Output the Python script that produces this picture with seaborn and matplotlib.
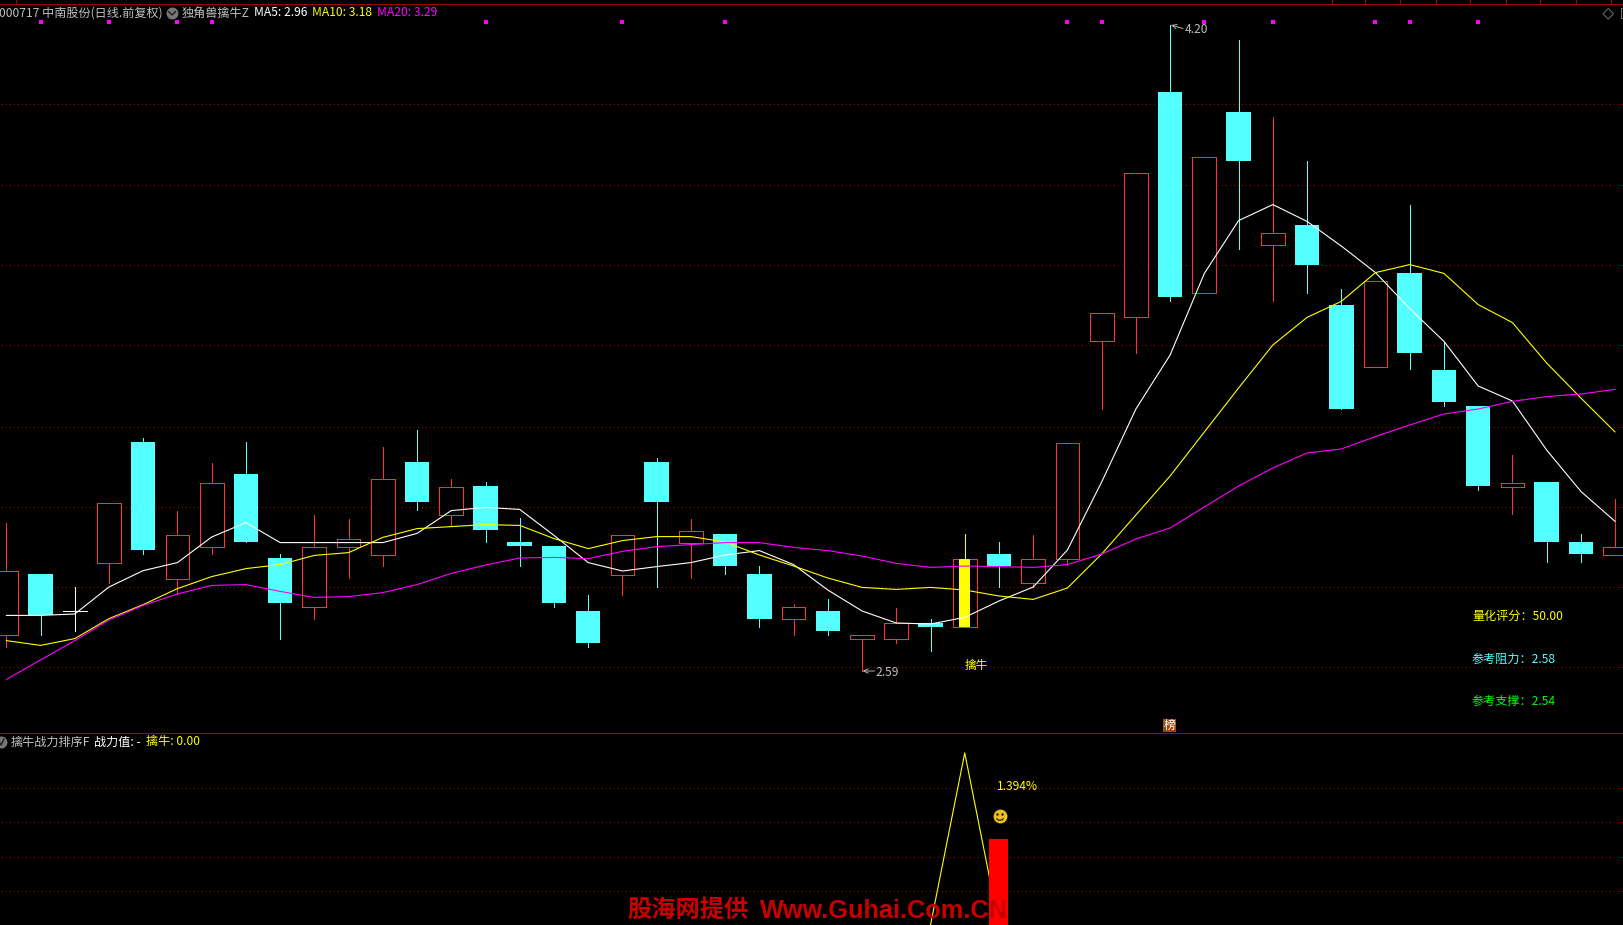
import matplotlib
matplotlib.use("Agg")
import matplotlib.pyplot as plt
from matplotlib.patches import Arc, Polygon, Rectangle
import numpy as np
import seaborn as sns

W, H = 1624, 925

# daily candles, prices
opens = [2.679, 2.8325, 2.74, 2.861, 3.1625, 2.821, 2.901, 3.0825, 2.8725, 2.749, 2.901, 2.881,
         3.1125, 2.981, 3.0525, 2.9125, 2.9025, 2.74, 2.831, 3.1125, 2.911, 2.9325, 2.8325, 2.719,
         2.74, 2.669, 2.669, 2.71, 2.699, 2.8825, 2.809, 2.871, 3.414, 3.474, 4.0375, 3.534,
         3.9875, 3.654, 3.705, 3.505, 3.351, 3.585, 3.3425, 3.2525, 3.051, 3.0625, 2.9125, 2.881]
closes = [2.841, 2.73, 2.74, 3.011, 2.8925, 2.931, 3.061, 2.9125, 2.76, 2.901, 2.921, 3.071,
          3.0125, 3.051, 2.9425, 2.9025, 2.76, 2.66, 2.931, 3.0125, 2.941, 2.8525, 2.72, 2.749,
          2.69, 2.679, 2.709, 2.70, 2.871, 2.8525, 2.871, 3.161, 3.484, 3.834, 3.526, 3.874,
          3.865, 3.684, 3.605, 3.244, 3.564, 3.385, 3.2625, 3.0525, 3.061, 2.9125, 2.8825, 2.901]
highs = [2.96, 2.8325, 2.80, 3.011, 3.1725, 2.99, 3.11, 3.1625, 2.8825, 2.98, 2.97, 3.15,
         3.1925, 3.07, 3.0625, 2.9725, 2.9025, 2.78, 2.931, 3.1225, 2.97, 2.9325, 2.8525, 2.7575,
         2.77, 2.679, 2.7475, 2.72, 2.9325, 2.9125, 2.93, 3.161, 3.484, 3.834, 4.205, 3.874,
         4.1675, 3.975, 3.865, 3.545, 3.564, 3.755, 3.4125, 3.2525, 3.13, 3.0625, 2.9325, 3.02]
lows = [2.65, 2.68, 2.69, 2.81, 2.8825, 2.7825, 2.8825, 2.9125, 2.67, 2.72, 2.8225, 2.8525,
        2.9925, 2.9525, 2.9125, 2.8525, 2.75, 2.65, 2.78, 2.80, 2.8225, 2.8325, 2.70, 2.68,
        2.68, 2.59, 2.66, 2.64, 2.699, 2.80, 2.80, 2.855, 3.244, 3.386, 3.516, 3.534,
        3.646, 3.516, 3.535, 3.244, 3.351, 3.344, 3.2525, 3.0425, 2.9825, 2.8625, 2.8625, 2.881]

ma5 = [2.729, 2.729, 2.7325, 2.80, 2.841, 2.861, 2.925, 2.961, 2.911, 2.911, 2.911, 2.911,
       2.934, 2.991, 2.999, 2.994, 2.929, 2.861, 2.84, 2.851, 2.861, 2.88, 2.891, 2.856,
       2.7925, 2.74, 2.71, 2.7075, 2.724, 2.765, 2.80, 2.8925, 3.0625, 3.245, 3.38, 3.584,
       3.716, 3.756, 3.714, 3.6525, 3.586, 3.496, 3.414, 3.3025, 3.265, 3.1425, 3.039, 2.964]
ma10 = [2.666, 2.654, 2.671, 2.721, 2.756, 2.796, 2.826, 2.846, 2.856, 2.879, 2.886, 2.924,
        2.946, 2.951, 2.956, 2.954, 2.921, 2.896, 2.916, 2.926, 2.926, 2.9125, 2.88, 2.8525,
        2.8225, 2.799, 2.794, 2.799, 2.7925, 2.7775, 2.769, 2.7975, 2.8825, 2.98, 3.0775, 3.1875,
        3.2975, 3.405, 3.474, 3.514, 3.586, 3.606, 3.584, 3.506, 3.461, 3.36, 3.2725, 3.1875]
ma20 = [2.569, 2.6175, 2.666, 2.7175, 2.754, 2.7825, 2.804, 2.806, 2.789, 2.774, 2.776, 2.786,
        2.806, 2.834, 2.855, 2.8725, 2.874, 2.871, 2.889, 2.901, 2.906, 2.911, 2.911, 2.899,
        2.891, 2.8775, 2.859, 2.849, 2.8525, 2.851, 2.849, 2.856, 2.8825, 2.92, 2.9475, 3.00,
        3.0525, 3.0975, 3.135, 3.145, 3.176, 3.205, 3.2325, 3.245, 3.264, 3.276, 3.2825, 3.294]

grid_main = [2.6, 2.8, 3.0, 3.2, 3.405, 3.605, 3.805, 4.008]
grid_sub = [0.546, 1.097, 1.665, 2.217]
signal_days = [1, 3, 5, 6, 14, 18, 21, 31, 32, 35, 37, 40, 41, 43]
top_ticks = [0.295, 38.72, 39.7, 40.73, 41.76, 42.75, 43.8, 44.82, 45.85, 46.88]
catch_day = 28

sub_days = [27, 28, 29]
sub_line = [0.0, 2.79, 0.0]
sub_bar = 1.394

BG = "#000000"
CYAN = "#54FFFF"
RED = "#FF3232"
GRIDC = "#A80000"
GREY = "#C0C0C0"

sns.set_theme(style="dark", rc={"axes.facecolor": BG, "figure.facecolor": BG})
plt.rcParams["font.family"] = ["Noto Sans CJK SC", "DejaVu Sans"]
plt.rcParams["axes.unicode_minus"] = False

fig = plt.figure(figsize=(W / 100, H / 100), dpi=100, facecolor=BG)
ax = fig.add_axes([0, (H - 733) / H, 1, 733 / H])
sub = fig.add_axes([0, 0, 1, (H - 734) / H])

# x: candle i sits at 6.3 + 34.23 * i pixels
XS = 34.23
xlim = (-6.3 / XS, (W - 6.3) / XS)
for a in (ax, sub):
    a.set_xlim(*xlim)
    a.set_facecolor(BG)
    a.set_xticks([])
    a.set_yticks([])
    a.grid(False)
    for s in a.spines.values():
        s.set_visible(False)
# y: 400 pixels per yuan on top, 61.7 pixels per unit below
ax.set_ylim((1707 - 733) / 400, 1707 / 400)
sub.set_ylim(0, 191 / 61.7)


def day_x(px):
    return (px - 6.3) / XS


def price_y(px):
    return (1707 - px) / 400


def sub_y(px):
    return (925 - px) / 61.7


PX = 0.72  # one pixel in points
gx0 = day_x(2)
for g in grid_main:
    ax.plot([gx0, xlim[1]], [g, g], color=GRIDC, lw=PX, ls=(0, (1, 3.7)), antialiased=False, zorder=1)
for g in grid_sub:
    sub.plot([gx0, xlim[1]], [g, g], color=GRIDC, lw=PX, ls=(0, (1, 3.7)), antialiased=False, zorder=1)

# candles
days = np.arange(len(opens))
bw = 24.5 / XS
for i in days:
    o, c, hi, lo = opens[i], closes[i], highs[i], lows[i]
    top, bot = max(o, c), min(o, c)
    if c > o:
        ax.vlines(i, top, hi, color=RED, lw=PX, antialiased=False, zorder=2)
        ax.vlines(i, lo, bot, color=RED, lw=PX, antialiased=False, zorder=2)
        ax.bar(i, top - bot, bw * 0.97, bottom=bot, facecolor=BG, edgecolor=RED, lw=PX,
               antialiased=False, zorder=3)
    elif c < o:
        ax.vlines(i, lo, hi, color=CYAN, lw=PX, antialiased=False, zorder=2)
        ax.bar(i, top - bot, bw, bottom=bot, color=CYAN, lw=0, zorder=3)
    else:
        ax.vlines(i, lo, hi, color="white", lw=PX, antialiased=False, zorder=2)
        ax.hlines(c, i - bw / 2, i + bw / 2, color="white", lw=PX, antialiased=False, zorder=3)

# yellow catch bar on the signal day
ax.vlines(catch_day, closes[catch_day], highs[catch_day], color="#FFFF00", lw=PX, antialiased=False, zorder=4)
ax.bar(catch_day, closes[catch_day] - opens[catch_day], 11 / XS, bottom=opens[catch_day],
       color="#FFFF00", lw=0, zorder=4)

for vals, col in ((ma5, "white"), (ma10, "#FFFF00"), (ma20, "#FF00FF")):
    sns.lineplot(x=days, y=vals, ax=ax, color=col, lw=0.8, estimator=None, legend=False, zorder=5)

ax.scatter(signal_days, [price_y(22.3)] * len(signal_days), marker="s", s=5, color="#FF00FF", lw=0, zorder=6)

# frame lines
ax.axhline(price_y(3.5), color=GRIDC, lw=PX, antialiased=False, zorder=6)
ax.axhline(price_y(733), color="#B00000", lw=PX, antialiased=False, clip_on=False, zorder=6)
ax.vlines(top_ticks, price_y(3.5), price_y(0), color=GRIDC, lw=PX, antialiased=False, zorder=6)

FS = 8.7


def label(x_px, y_px, s, color, size=FS, **kw):
    # header and note texts are placed in pixels of the figure
    fig.text(x_px / W, 1 - y_px / H, s, color=color, fontsize=size, va="center", ha="left", **kw)


# header
label(-1, 13, "000717 中南股份(日线.前复权)", GREY)
ax.scatter([day_x(172)], [price_y(13)], s=74, color="#777777", lw=0, zorder=7)
ax.plot([day_x(168.5), day_x(172), day_x(175.5)], [price_y(11.5), price_y(15), price_y(11.5)],
        color="#222222", lw=1.1, zorder=8)
label(182, 13, "独角兽擒牛Z", GREY)
label(254.5, 13, "MA5: 2.96", "white")
label(312.5, 13, "MA10: 3.18", "#FFFF00")
label(377.5, 13, "MA20: 3.29", "#FF00FF")

# top right icons
ax.add_patch(Polygon([(day_x(1603), price_y(13.7)), (day_x(1608.3), price_y(8.5)),
                      (day_x(1613.5), price_y(13.7)), (day_x(1608.3), price_y(19))],
                     closed=True, fill=False, edgecolor="#707070", lw=PX, zorder=7))
ax.add_patch(Rectangle((day_x(1621.5), price_y(18)), day_x(1630) - day_x(1621.5), price_y(8) - price_y(18),
                       fill=False, edgecolor="#707070", lw=PX, zorder=7))

# high and low notes
arrow = dict(arrowstyle="->,head_width=0.13,head_length=0.28", color=GREY, lw=0.65, shrinkA=0, shrinkB=0)
ax.annotate("", xy=(day_x(1171), price_y(25)), xytext=(day_x(1183), price_y(28.5)), arrowprops=arrow, zorder=7)
label(1185, 29.5, "4.20", GREY)
ax.annotate("", xy=(day_x(862.5), price_y(671)), xytext=(day_x(874.5), price_y(671)), arrowprops=arrow, zorder=7)
label(875.5, 672.5, "2.59", GREY)
label(965, 665, "擒牛", "#FFFF00", size=8.4)

# score block
label(1472, 616.5, "量化评分：50.00", "#FFFF00")
label(1472, 659, "参考阻力：2.58", CYAN)
label(1472, 701, "参考支撑：2.54", "#00FF00")

# list badge above the separator
ax.add_patch(Rectangle((day_x(1163), price_y(732)), 13 / XS, 13 / 400, color="#9A4A10", lw=0, zorder=7))
label(1163.5, 725, "榜", "white", size=8.6, zorder=8)

# lower panel
sns.lineplot(x=sub_days, y=sub_line, ax=sub, color="#FFFF00", lw=0.8, estimator=None, legend=False, zorder=3)
sub.bar(sub_days[-1], sub_bar, 19 / XS, color="#FF0000", lw=0, zorder=4)

label(11, 742, "擒牛战力排序F", GREY)
label(94.5, 742, "战力值: -", "white")
label(146, 742, "擒牛: 0.00", "#FFFF00")
sub.scatter([day_x(1)], [sub_y(742)], s=74, color="#777777", lw=0, zorder=7)
sub.plot([day_x(-1), day_x(1), day_x(4)], [sub_y(742), sub_y(745), sub_y(739)], color="#222222", lw=1.1, zorder=8)
label(996.5, 786.5, "1.394%", "#FFFF00")

# smiley
sx, sy = day_x(1000), sub_y(816)
sub.scatter([sx], [sy], s=100, color="#E8C020", lw=0, zorder=6)
sub.scatter([sx - 2.5 / XS, sx + 2.5 / XS], [sy + 2 / 61.7] * 2, s=3, color="#201800", lw=0, zorder=7)
sub.add_patch(Arc((sx, sy), 8.5 / XS, 8.5 / 61.7, theta1=200, theta2=340, color="#201800", lw=0.8, zorder=7))

# watermark
label(627, 910.5, "股海网提供", "#C80000", size=17.5, fontweight="bold", zorder=8)
fig.text(760 / W, 1 - 910.5 / H, "Www.Guhai.Com.CN", color="#C80000", fontsize=18.2, fontweight="bold",
         family="Liberation Sans", va="center", ha="left", zorder=8)

fig.savefig("out.png", dpi=100, facecolor=BG)
